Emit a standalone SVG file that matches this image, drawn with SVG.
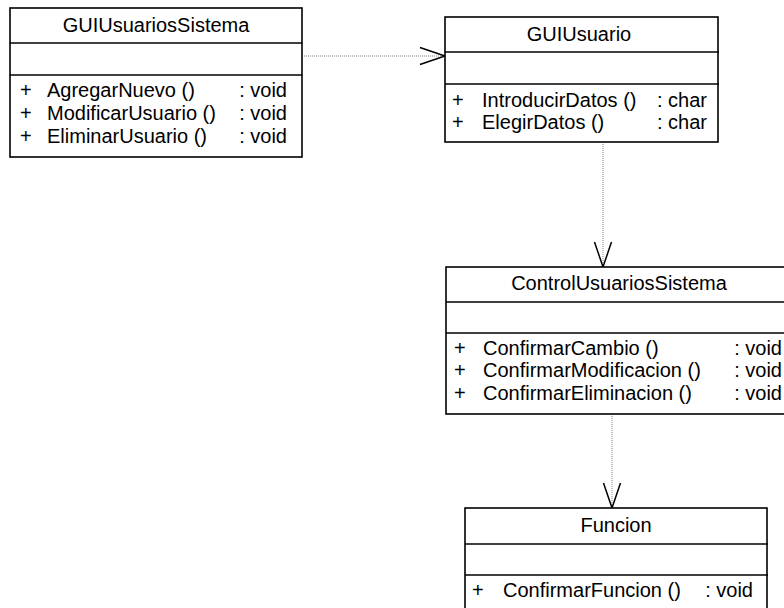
<svg xmlns="http://www.w3.org/2000/svg" width="784" height="608" viewBox="0 0 784 608">
<defs>
<style>
.box{fill:#fff;stroke:#000;stroke-width:1.6}
.div{stroke:#000;stroke-width:1.6}
text{font-family:"Liberation Sans",Arial,sans-serif;font-size:20px;fill:#000}
.t{text-anchor:middle}
.r{text-anchor:end}
.conn{fill:none;stroke:#808080;stroke-width:1;stroke-dasharray:1 1}
</style>
<marker id="open" markerUnits="userSpaceOnUse" markerWidth="30" markerHeight="20" refX="25" refY="9" orient="auto" overflow="visible">
<path d="M0,0.5 L25,9 L0,17.5" fill="none" stroke="#000" stroke-width="1.5"/>
</marker>
</defs>
<rect width="784" height="608" fill="#fff"/>

<g id="connectors">
<line class="conn" x1="302" y1="56" x2="445" y2="56" marker-end="url(#open)"/>
<line class="conn" x1="603" y1="142" x2="603" y2="267" marker-end="url(#open)"/>
<line class="conn" x1="612" y1="414" x2="612" y2="508" marker-end="url(#open)"/>
</g>

<g id="GUIUsuariosSistema">
<rect class="box" x="10" y="8" width="292" height="149"/>
<line class="div" x1="10" y1="43" x2="302" y2="43"/>
<line class="div" x1="10" y1="75" x2="302" y2="75"/>
<text class="t" x="156" y="32">GUIUsuariosSistema</text>
<text x="20" y="97">+</text><text x="47" y="97">AgregarNuevo ()</text><text class="r" x="287" y="97">: void</text>
<text x="20" y="120">+</text><text x="47" y="120">ModificarUsuario ()</text><text class="r" x="287" y="120">: void</text>
<text x="20" y="143">+</text><text x="47" y="143">EliminarUsuario ()</text><text class="r" x="287" y="143">: void</text>
</g>

<g id="GUIUsuario">
<rect class="box" x="445" y="17" width="273" height="125"/>
<line class="div" x1="445" y1="52" x2="719" y2="52"/>
<line class="div" x1="445" y1="84" x2="719" y2="84"/>
<text class="t" x="579" y="41">GUIUsuario</text>
<text x="452" y="107">+</text><text x="482" y="107">IntroducirDatos ()</text><text class="r" x="707" y="107">: char</text>
<text x="452" y="129">+</text><text x="482" y="129">ElegirDatos ()</text><text class="r" x="707" y="129">: char</text>
</g>

<g id="ControlUsuariosSistema">
<rect class="box" x="446" y="267" width="350" height="147"/>
<line class="div" x1="446" y1="302" x2="796" y2="302"/>
<line class="div" x1="446" y1="333" x2="796" y2="333"/>
<text class="t" x="619" y="290">ControlUsuariosSistema</text>
<text x="454" y="355">+</text><text x="483" y="355">ConfirmarCambio ()</text><text class="r" x="782" y="355">: void</text>
<text x="454" y="377">+</text><text x="483" y="377">ConfirmarModificacion ()</text><text class="r" x="782" y="377">: void</text>
<text x="454" y="400">+</text><text x="483" y="400">ConfirmarEliminacion ()</text><text class="r" x="782" y="400">: void</text>
</g>

<g id="Funcion">
<rect class="box" x="465" y="508" width="302" height="110"/>
<line class="div" x1="465" y1="544" x2="768" y2="544"/>
<line class="div" x1="465" y1="575" x2="768" y2="575"/>
<text class="t" x="616" y="532">Funcion</text>
<text x="472" y="597">+</text><text x="503" y="597">ConfirmarFuncion ()</text><text class="r" x="753" y="597">: void</text>
</g>
</svg>
